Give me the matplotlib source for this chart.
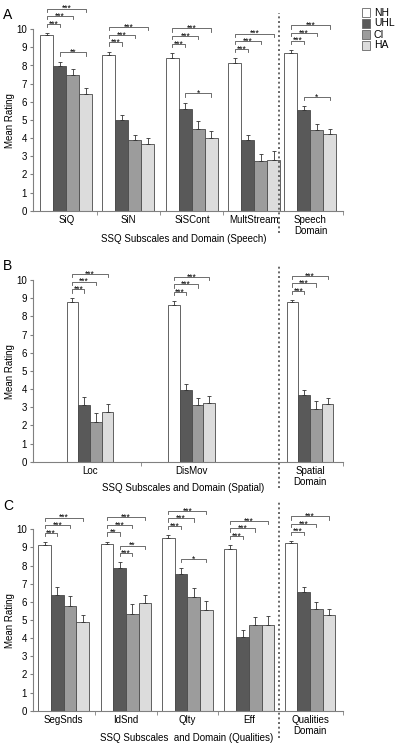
import numpy as np
import matplotlib.pyplot as plt

plt.rcParams['font.family'] = ['Liberation Sans', 'DejaVu Sans']

# groups and colours
groups = ['NH', 'UHL', 'CI', 'HA']
colors = ['white', '#595959', '#9c9c9c', '#dcdcdc']

# Panel A (speech)
speech_labels = ['SiQ', 'SiN', 'SiSCont', 'MultStream', 'Speech\nDomain']
speech_nh = [9.7, 8.57, 8.4, 8.12, 8.67]
speech_uhl = [7.97, 5.0, 5.63, 3.88, 5.53]
speech_ci = [7.5, 3.87, 4.52, 2.72, 4.47]
speech_ha = [6.42, 3.7, 4.0, 2.82, 4.2]
speech_nh_err = [0.1, 0.2, 0.3, 0.3, 0.2]
speech_uhl_err = [0.25, 0.3, 0.33, 0.3, 0.25]
speech_ci_err = [0.3, 0.3, 0.4, 0.4, 0.3]
speech_ha_err = [0.33, 0.33, 0.4, 0.45, 0.3]
# (category, from group, to group, label)
speech_sig = [(0, 0, 1, '***'), (0, 0, 2, '***'), (0, 0, 3, '***'), (0, 1, 3, '**'),
              (1, 0, 1, '***'), (1, 0, 2, '***'), (1, 0, 3, '***'),
              (2, 0, 1, '***'), (2, 0, 2, '***'), (2, 0, 3, '***'), (2, 1, 3, '*'),
              (3, 0, 1, '***'), (3, 0, 2, '***'), (3, 0, 3, '***'),
              (4, 0, 1, '***'), (4, 0, 2, '***'), (4, 0, 3, '***'), (4, 1, 3, '*')]

# Panel B (spatial)
spatial_labels = ['Loc', 'DisMov', 'Spatial\nDomain']
spatial_nh = [8.8, 8.65, 8.78]
spatial_uhl = [3.1, 3.95, 3.65]
spatial_ci = [2.18, 3.1, 2.92]
spatial_ha = [2.75, 3.25, 3.2]
spatial_nh_err = [0.2, 0.2, 0.12]
spatial_uhl_err = [0.45, 0.33, 0.3]
spatial_ci_err = [0.5, 0.4, 0.42]
spatial_ha_err = [0.45, 0.38, 0.33]
spatial_sig = [(0, 0, 1, '***'), (0, 0, 2, '***'), (0, 0, 3, '***'),
               (1, 0, 1, '***'), (1, 0, 2, '***'), (1, 0, 3, '***'),
               (2, 0, 1, '***'), (2, 0, 2, '***'), (2, 0, 3, '***')]

# Panel C (qualities)
qual_labels = ['SegSnds', 'IdSnd', 'Qlty', 'Eff', 'Qualities\nDomain']
qual_nh = [9.15, 9.17, 9.52, 8.9, 9.22]
qual_uhl = [6.35, 7.88, 7.53, 4.08, 6.55]
qual_ci = [5.75, 5.33, 6.25, 4.7, 5.6]
qual_ha = [4.87, 5.93, 5.55, 4.72, 5.27]
qual_nh_err = [0.15, 0.15, 0.15, 0.22, 0.15]
qual_uhl_err = [0.45, 0.3, 0.33, 0.35, 0.25]
qual_ci_err = [0.55, 0.55, 0.5, 0.45, 0.38]
qual_ha_err = [0.4, 0.42, 0.48, 0.5, 0.35]
qual_sig = [(0, 0, 1, '***'), (0, 0, 2, '***'), (0, 0, 3, '***'),
            (1, 0, 1, '**'), (1, 0, 2, '***'), (1, 0, 3, '***'), (1, 1, 2, '***'), (1, 1, 3, '**'),
            (2, 0, 1, '***'), (2, 0, 2, '***'), (2, 0, 3, '***'), (2, 1, 3, '*'),
            (3, 0, 1, '***'), (3, 0, 2, '***'), (3, 0, 3, '***'),
            (4, 0, 1, '***'), (4, 0, 2, '***'), (4, 0, 3, '***')]

# layout (x in pixels of the figure)
W, H = 400, 748
x0, x1 = 33.3, 343.3
dash_x = 279.3


def draw_panel(ax, centers, width, labels, series, errs, sig, xlabel, dash_y, xlab):
    centers = np.array(centers)
    for i in range(4):
        pos = centers + (i - 1.5) * width
        ax.bar(pos, series[i], width, color=colors[i], edgecolor='#4a4a4a', linewidth=0.6, zorder=2)
        ax.errorbar(pos, series[i], yerr=[np.zeros(len(errs[i])), errs[i]], fmt='none',
                    ecolor='#333333', elinewidth=0.6, capsize=1.6, capthick=0.6, zorder=3)
    # significance brackets
    count = {}
    for c, a, b, lab in sig:
        k = count.get((c, a), 0)
        count[(c, a)] = k + 1
        y = series[a][c] + errs[a][c] + 0.5 + 0.42 * k
        xa = centers[c] + (a - 1.5) * width
        xb = centers[c] + (b - 1.5) * width
        ax.plot([xa, xa, xb, xb], [y - 0.18, y, y, y - 0.18], color='#555555', lw=0.6,
                clip_on=False, zorder=3)
        ax.text((xa + xb) / 2, y - 0.14, lab, ha='center', va='baseline', fontsize=6.2)
    ax.plot([dash_x, dash_x], dash_y, color='#666666', lw=1.4, linestyle=(0, (1, 1.4)),
            clip_on=False)

    ax.set_xlim(x0, x1)
    ax.set_ylim(0, 11.6)
    ax.set_yticks(range(11))
    ax.spines['left'].set_bounds(0, 10)
    ax.spines['top'].set_visible(False)
    ax.spines['right'].set_visible(False)
    for s in ['left', 'bottom']:
        ax.spines[s].set_color('#808080')
        ax.spines[s].set_linewidth(0.8)
    ax.set_xticks(centers)
    ax.set_xticklabels(labels, fontsize=7)
    bounds = list((centers[:-2] + centers[1:-1]) / 2) + [x1]
    ax.set_xticks(bounds, minor=True)
    ax.tick_params(axis='x', which='major', length=0, pad=3)
    ax.tick_params(axis='x', which='minor', length=3, color='#808080')
    ax.tick_params(axis='y', length=2.5, color='#808080', labelsize=7, pad=2)
    ax.text(xlab[0], xlab[1], xlabel, ha='center', va='center', fontsize=7)
    ax.text(-0.075, 0.43, 'Mean Rating', transform=ax.transAxes, rotation=90,
            ha='center', va='center', fontsize=7)
    return ax


fig = plt.figure(figsize=(W / 100, H / 100), dpi=100)
left, width_ax = x0 / W, (x1 - x0) / W
hgt = 11.6 * 18.15 / H

axA = fig.add_axes([left, 1 - 210.7 / H, width_ax, hgt])
draw_panel(axA, [66.3, 128.3, 192, 254.5, 310.5], 13,
           speech_labels, [speech_nh, speech_uhl, speech_ci, speech_ha],
           [speech_nh_err, speech_uhl_err, speech_ci_err, speech_ha_err],
           speech_sig, 'SSQ Subscales and Domain (Speech)', [-1.25, 10.9], (184, -1.56))

axB = fig.add_axes([left, 1 - 461.7 / H, width_ax, hgt])
draw_panel(axB, [90, 191.7, 310], 11.7,
           spatial_labels, [spatial_nh, spatial_uhl, spatial_ci, spatial_ha],
           [spatial_nh_err, spatial_uhl_err, spatial_ci_err, spatial_ha_err],
           spatial_sig, 'SSQ Subscales and Domain (Spatial)', [-1.45, 10.8], (183, -1.47))

axC = fig.add_axes([left, 1 - 710.7 / H, width_ax, hgt])
draw_panel(axC, [63.7, 126, 187.3, 249, 310], 12.7,
           qual_labels, [qual_nh, qual_uhl, qual_ci, qual_ha],
           [qual_nh_err, qual_uhl_err, qual_ci_err, qual_ha_err],
           qual_sig, 'SSQ Subscales  and Domain (Qualities)', [-1.5, 11.5], (187, -1.5))

# panel letters
fig.text(3 / W, 1 - 15 / H, 'A', fontsize=10, va='center')
fig.text(3 / W, 1 - 266 / H, 'B', fontsize=10, va='center')
fig.text(3 / W, 1 - 506 / H, 'C', fontsize=10, va='center')

# legend
for i, g in enumerate(groups):
    yc = 1 - (12.5 + 11 * i) / H
    fig.patches.append(plt.Rectangle((361.5 / W, yc - 4 / H), 8 / W, 8 / H,
                                     transform=fig.transFigure, facecolor=colors[i],
                                     edgecolor='#666666', linewidth=0.6))
    fig.text(374 / W, yc, g, fontsize=7.5, va='center')

fig.savefig('out.png', dpi=100)
